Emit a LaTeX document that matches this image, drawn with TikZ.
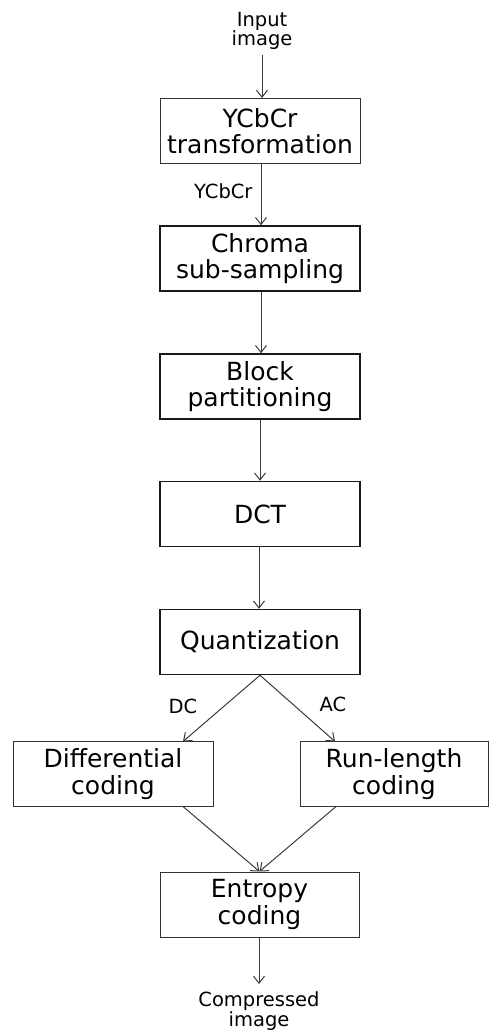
\documentclass[tikz,border=0pt]{standalone}
\usepackage{fontspec}
\setmainfont{DejaVu Sans}
\usetikzlibrary{arrows.meta}
\definecolor{linegray}{HTML}{3a3a3a}
\tikzset{
  proc/.style={draw=black!80, line width=1pt, minimum height=65pt, minimum width=200pt, inner sep=0pt, align=center, font=\fontsize{25}{26.5}\selectfont},
  procthick/.style={proc, line width=1.5pt, draw=black!90},
  lbl/.style={align=center, inner sep=0pt, font=\fontsize{19.5}{19.5}\selectfont},
  flow/.style={draw=linegray, line width=1pt, -{Straight Barb[length=7pt,width=11pt,line width=1pt]}}
}
\begin{document}
\begin{tikzpicture}[x=1pt,y=-1pt]
\useasboundingbox (0,0) rectangle (489,1032);
\node[lbl] (in) at (262,31) {Input\\image};
\coordinate (inend) at (262,55);
\node[proc] (ycc) at (260,131) {YCbCr\\transformation};
\node[procthick] (chroma) at (260,258.5) {Chroma\\sub-sampling};
\node[procthick] (block) at (260,386.5) {Block\\partitioning};
\node[procthick] (dct) at (260,514) {DCT};
\node[procthick] (quant) at (260,642) {Quantization};
\node[proc] (diff) at (113,774) {Differential\\coding};
\node[proc, minimum width=188pt] (rle) at (394,774) {Run-length\\coding};
\node[proc, minimum width=199pt] (ent) at (259.5,904.5) {Entropy\\coding};
\node[lbl] (out) at (259,1011) {Compressed\\image};
\coordinate (outend) at (259,984);
\draw[flow] (inend) -- (ycc.north -| inend);
\draw[flow] (ycc.south -| 261,0) -- node[lbl, left=8pt, pos=0.45] (ylab) {YCbCr} (chroma.north -| 261,0);
\draw[flow] (chroma.south -| 261,0) -- (block.north -| 261,0);
\draw[flow] (block.south -| 260,0) -- (dct.north -| 260,0);
\draw[flow] (dct.south -| 259,0) -- (quant.north -| 259,0);
\coordinate (qb) at (quant.south);
\coordinate (dtop) at (183,741.5);
\coordinate (rtop) at (335,741.5);
\draw[flow] (qb) -- (dtop);
\draw[flow] (qb) -- (rtop);
\node[lbl] (dc) at (183,706) {DC};
\node[lbl] (ac) at (333,704) {AC};
\coordinate (dbot) at (183,806.5);
\coordinate (rbot) at (336,806.5);
\coordinate (etop) at (ent.north);
\draw[flow] (dbot) -- (etop);
\draw[flow] (rbot) -- (etop);
\draw[flow] (ent.south -| outend) -- (outend);
\end{tikzpicture}
\end{document}
